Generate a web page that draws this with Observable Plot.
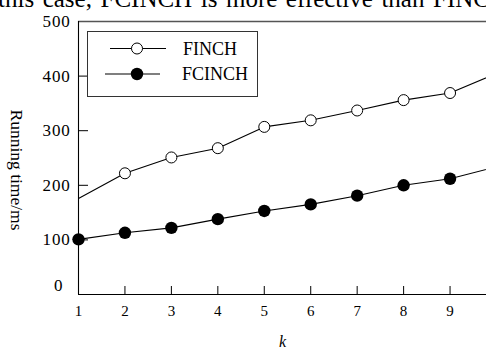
<!DOCTYPE html>
<html><head><meta charset="utf-8">
<script src="https://cdn.jsdelivr.net/npm/d3@7"></script>
<script src="https://cdn.jsdelivr.net/npm/@observablehq/plot@0.6"></script>
<style>
html,body{margin:0;padding:0;background:#fff;overflow:hidden}
#wrap{position:relative;width:486px;height:349px;overflow:hidden;font-family:"Liberation Serif","Times New Roman",serif;background:#fff}
#chart svg{display:block}
#title{position:absolute;left:-2px;top:-14px;font-size:25px;line-height:25px;word-spacing:2.3px;white-space:nowrap;color:#000}
#legend{position:absolute;left:87px;top:31px;width:169px;height:64px;border:1px solid #333;background:#fff}
#legend svg{display:block}
g[aria-label="y-axis tick label"] text{letter-spacing:0.8px}
</style></head><body>
<div id="wrap"><div id="chart"></div><div id="title"></div><div id="legend"></div></div>
<script>
// ---- data ----
const titleText = "this case, FCINCH is more effective than FINCH.";
const seriesNames = ["FINCH", "FCINCH"];
const ks = [1, 2, 3, 4, 5, 6, 7, 8, 9, 10];
const finchValues = [176, 222, 251, 268, 307, 319, 337, 356, 369, 405];
const fcinchValues = [101, 113, 122, 138, 153, 165, 181, 200, 212, 234];
const xTicks = [1, 2, 3, 4, 5, 6, 7, 8, 9];
const yTicks = [0, 100, 200, 300, 400, 500];
const xLabel = "k";
const yLabel = "Running time/ms";

const font = '"Liberation Serif","Times New Roman",serif';
const finchRows = ks.map((k, i) => ({k, v: finchValues[i]}));
const fcinchRows = ks.map((k, i) => ({k, v: fcinchValues[i]}));
const visible = d => d.k <= xTicks[xTicks.length - 1];

const W = 486, H = 349, mL = 78, mT = 21, mB = 55;
const frameW = W - mL, frameH = H - mT - mB;

const chart = Plot.plot({
  width: W, height: H,
  marginTop: mT, marginLeft: mL, marginRight: 0, marginBottom: mB,
  x: {domain: [1, 10], range: [mL, W + 10]},
  y: {domain: [yTicks[0], yTicks[yTicks.length - 1]]},
  style: {fontFamily: font, background: "white", color: "#000"},
  marks: [
    Plot.ruleY([yTicks[yTicks.length - 1]], {stroke: "#555", strokeWidth: 1.3}),
    Plot.ruleX([xTicks[0]], {stroke: "#000", strokeWidth: 1.1}),
    Plot.ruleY([yTicks[0]], {stroke: "#000", strokeWidth: 1.1}),
    Plot.tickY(yTicks.slice(1, -1), {y: d => d, insetRight: frameW - 10, stroke: "#000"}),
    Plot.tickX(xTicks.slice(1), {x: d => d, insetTop: frameH - 8, stroke: "#000"}),
    Plot.axisY({ticks: yTicks.slice(1), tickSize: 0, tickPadding: 8, fontSize: 17, label: null, tickFormat: d => String(d)}),
    Plot.text([yTicks[0]], {y: d => d, text: d => String(d), frameAnchor: "left", dx: -16, dy: -9, textAnchor: "end", fontSize: 17}),
    Plot.axisX({ticks: xTicks, tickSize: 0, tickPadding: 11, fontSize: 15, label: null, tickFormat: d => String(d)}),
    Plot.text([xLabel], {frameAnchor: "bottom", dy: 52, fontSize: 16, fontStyle: "italic", lineAnchor: "bottom"}),
    Plot.text([yLabel], {frameAnchor: "left", textAnchor: "middle", lineAnchor: "middle", rotate: 90, dx: -62, dy: 12, fontSize: 17.5}),
    Plot.line(finchRows, {x: "k", y: "v", stroke: "#000", strokeWidth: 1.1}),
    Plot.line(fcinchRows, {x: "k", y: "v", stroke: "#000", strokeWidth: 1.1}),
    Plot.dot(finchRows.filter(d => d.k > 1 && visible(d)), {x: "k", y: "v", r: 5.5, fill: "white", stroke: "#000", strokeWidth: 1}),
    Plot.dot(fcinchRows.filter(visible), {x: "k", y: "v", r: 6.2, fill: "#000", stroke: "none"})
  ]
});
document.getElementById("chart").appendChild(chart);
document.getElementById("title").textContent = titleText;

// legend
const lg = d3.select("#legend").append("svg").attr("width", 169).attr("height", 64);
const items = [
  {name: seriesNames[0], y: 16.5, x1: 22, x2: 78, open: true, tx: 95},
  {name: seriesNames[1], y: 42, x1: 17, x2: 72, open: false, tx: 94}
];
for (const it of items) {
  lg.append("line").attr("x1", it.x1).attr("x2", it.x2).attr("y1", it.y).attr("y2", it.y).attr("stroke", "#000").attr("stroke-width", 1.1);
  lg.append("circle").attr("cx", 49).attr("cy", it.y).attr("r", it.open ? 5.5 : 6.2)
    .attr("fill", it.open ? "white" : "#000").attr("stroke", it.open ? "#000" : "none");
  lg.append("text").attr("x", it.tx).attr("y", it.y).attr("dy", "0.35em").attr("font-family", font).attr("font-size", 18).text(it.name);
}
</script></body></html>
